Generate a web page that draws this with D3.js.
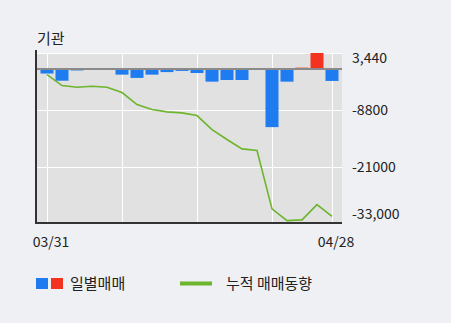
<!DOCTYPE html>
<html><head><meta charset="utf-8">
<script src="https://cdn.jsdelivr.net/npm/d3@7"></script>
<style>
html,body{margin:0;padding:0;background:#eef0f4;}
svg{display:block;font-family:"Noto Sans CJK KR","Noto Sans",sans-serif;}
</style></head>
<body>
<svg id="c" width="451" height="323"></svg>
<script>
const title = "기관";
const dates = ["03/31","04/01","04/02","04/03","04/06","04/07","04/08","04/09","04/10","04/13",
               "04/14","04/16","04/17","04/20","04/21","04/22","04/23","04/24","04/27","04/28"];
const daily = [-960,-2500,-300,200,-200,-1200,-1900,-1200,-650,-400,
               -850,-2700,-2350,-2350,0,-12450,-2700,300,3440,-2550];
const cumulative = [-1180,-3540,-3900,-3690,-3900,-5040,-7610,-8680,-9180,-9390,
                    -9970,-12970,-15110,-17110,-17470,-29970,-32480,-32330,-29050,-31560];
const yTickValues = [3440,-8800,-21000,-33000];
const yTickLabels = ["3,440","-8800","-21000","-33,000"];
const xGridDates = ["03/31","04/07","04/14","04/22","04/28"];
const xLabelDates = ["03/31","04/28"];
const legendLabels = ["일별매매","누적 매매동향"];

const svg = d3.select("#c");
const L = 37, R = 342, T = 53, B = 223;

const x = d3.scaleBand().domain(dates).range([39.5, 339.5]).paddingInner(2/15).paddingOuter(1/15);
const y = d3.scaleLinear().domain([-33000, 3440]).range([B, T]);
const cx = d => x(d) + x.bandwidth()/2;

// title
svg.append("text").attr("x", 37).attr("y", 44).attr("font-size", 15).attr("fill", "#222").text(title);

// plot bg
svg.append("rect").attr("x", L).attr("y", T).attr("width", R-L).attr("height", B-T).attr("fill", "#e1e1e1");

// grid
svg.append("g").selectAll("line").data(yTickValues).join("line")
  .attr("x1", L).attr("x2", R).attr("y1", d => Math.round(y(d))+0.5).attr("y2", d => Math.round(y(d))+0.5)
  .attr("stroke", "#fff").attr("stroke-width", 1);
svg.append("g").selectAll("line").data(xGridDates).join("line")
  .attr("x1", d => Math.round(cx(d))+0.5).attr("x2", d => Math.round(cx(d))+0.5).attr("y1", T).attr("y2", B)
  .attr("stroke", "#fff").attr("stroke-width", 1);

// bars
svg.append("g").selectAll("rect").data(daily).join("rect")
  .attr("x", (d,i) => x(dates[i]))
  .attr("width", x.bandwidth())
  .attr("y", d => d >= 0 ? y(d) : y(0))
  .attr("height", d => Math.abs(y(d) - y(0)))
  .attr("fill", d => d >= 0 ? "#f3321f" : "#1f7bf0");

// zero line
svg.append("line").attr("x1", L).attr("x2", R).attr("y1", y(0)).attr("y2", y(0))
  .attr("stroke", "#8a8a8a").attr("stroke-width", 2);

// cumulative line
const line = d3.line().x((d,i) => cx(dates[i])).y(d => y(d));
svg.append("path").datum(cumulative).attr("d", line)
  .attr("fill", "none").attr("stroke", "#6cb52c").attr("stroke-width", 1.6);

// axes lines
svg.append("line").attr("x1", 36).attr("x2", 36).attr("y1", T-3).attr("y2", B+1)
  .attr("stroke", "#333").attr("stroke-width", 2);
svg.append("line").attr("x1", 35).attr("x2", R).attr("y1", B).attr("y2", B)
  .attr("stroke", "#333").attr("stroke-width", 2);

// y labels
const yOff = [5, 0, 0, -9];
svg.append("g").selectAll("text").data(yTickValues).join("text")
  .attr("x", 352).attr("y", (d,i) => y(d) + yOff[i]).attr("dy", "0.35em")
  .attr("font-size", 14).attr("fill", "#222").text((d,i) => yTickLabels[i]);

// x labels
svg.append("g").selectAll("text").data(xLabelDates).join("text")
  .attr("x", d => cx(d) + 4).attr("y", 242).attr("dy", "0.35em").attr("text-anchor", "middle")
  .attr("font-size", 14).attr("fill", "#222").text(d => d);

// legend
const lg = svg.append("g");
lg.append("rect").attr("x", 36).attr("y", 278).attr("width", 12).attr("height", 11).attr("fill", "#1f7bf0");
lg.append("rect").attr("x", 51).attr("y", 278).attr("width", 12).attr("height", 11).attr("fill", "#f3321f");
lg.append("text").attr("x", 70).attr("y", 283.5).attr("dy", "0.35em").attr("font-size", 15).attr("fill", "#222").text(legendLabels[0]);
lg.append("line").attr("x1", 180).attr("x2", 212).attr("y1", 283.5).attr("y2", 283.5).attr("stroke", "#6cb52c").attr("stroke-width", 4);
lg.append("text").attr("x", 226).attr("y", 283.5).attr("dy", "0.35em").attr("font-size", 15).attr("fill", "#222").text(legendLabels[1]);
</script>
</body></html>
